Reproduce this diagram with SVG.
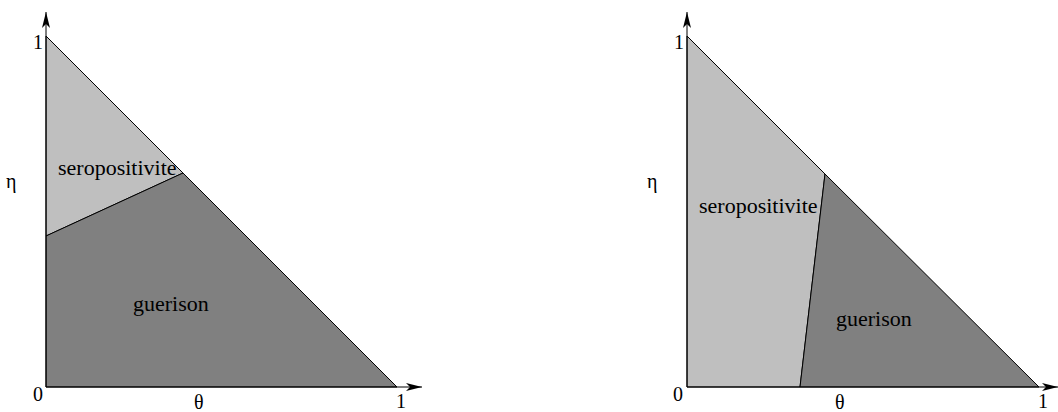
<svg xmlns="http://www.w3.org/2000/svg" width="1058" height="412" viewBox="0 0 1058 412">
<style>
text{font-family:"Liberation Serif","Times New Roman",serif;font-size:20px;fill:#000}
text.region{font-size:22px}
.light{fill:#bfbfbf;stroke:#000;stroke-width:1}
.dark{fill:#808080;stroke:#000;stroke-width:1}
.axis{stroke:#000;stroke-width:1;fill:none}
</style>
<defs>
<marker id="arr" viewBox="0 0 16 8" refX="16" refY="4" markerWidth="16" markerHeight="8" markerUnits="userSpaceOnUse" orient="auto">
<path d="M0,0 L16,4 L0,8 L4,4 Z" fill="#000"/>
</marker>
</defs>
<g id="plot-left">
<g id="left-seropositivite">
<polygon class="light" points="46,36 183,173 46,236"/>
<text class="region" x="58" y="175">seropositivite</text>
</g>
<g id="left-guerison">
<polygon class="dark" points="46,236 183,173 397,387 46,387"/>
<text class="region" x="133" y="311">guerison</text>
</g>
</g>
<g id="plot-right">
<g id="right-seropositivite">
<polygon class="light" points="687,36 825,174 800,387 687,387"/>
<text class="region" x="699" y="213">seropositivite</text>
</g>
<g id="right-guerison">
<polygon class="dark" points="825,174 1039,387 800,387"/>
<text class="region" x="836" y="326">guerison</text>
</g>
</g>
<g id="connectors">
<line class="axis" x1="46" y1="387" x2="46" y2="12" marker-end="url(#arr)"/>
<line class="axis" x1="46" y1="387" x2="422" y2="387" marker-end="url(#arr)"/>
<line class="axis" x1="687" y1="387" x2="687" y2="12" marker-end="url(#arr)"/>
<line class="axis" x1="687" y1="387" x2="1058" y2="387" marker-end="url(#arr)"/>
</g>
<g id="labels">
<text x="33" y="49">1</text>
<text x="33" y="401">0</text>
<text x="194" y="409">θ</text>
<text x="396" y="408">1</text>
<text x="6" y="188">η</text>
<text x="674" y="49">1</text>
<text x="673" y="401">0</text>
<text x="835" y="409">θ</text>
<text x="1038" y="408">1</text>
<text x="647" y="188">η</text>
</g>
</svg>
